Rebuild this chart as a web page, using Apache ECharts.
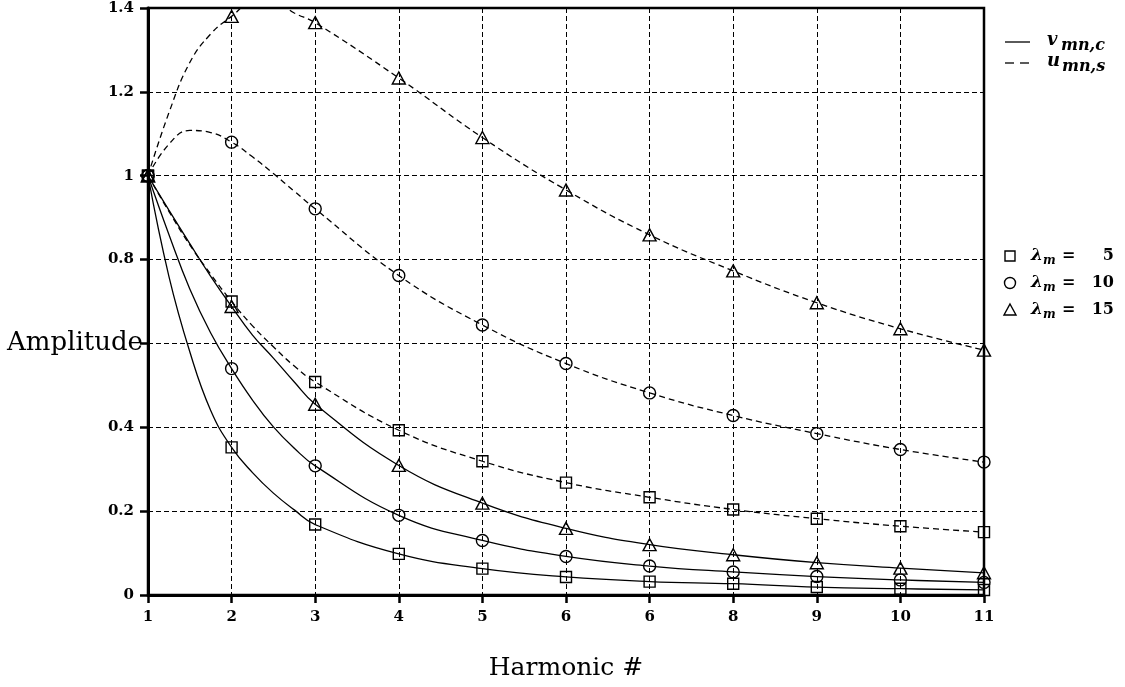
<!DOCTYPE html>
<html>
<head>
<meta charset="utf-8">
<script src="https://cdn.jsdelivr.net/npm/echarts@6/dist/echarts.min.js"></script>
<style>
html,body{margin:0;padding:0;background:#fff;}
#chart{width:1125px;height:687px;}
</style>
</head>
<body>
<div id="chart"></div>
<script>
// ---- data ----
const harmonics = [1, 2, 3, 4, 5, 6, 7, 8, 9, 10, 11];
const xTickLabels = ['1', '2', '3', '4', '5', '6', '6', '8', '9', '10', '11'];
const yTickLabels = ['0', '0.2', '0.4', 'Amplitude', '0.8', '1', '1.2', '1.4'];
const xAxisTitle = 'Harmonic #';
const yAxisTitle = 'Amplitude';

// v_mn,c (solid) at each harmonic
const vLam5  = [1, 0.352, 0.168, 0.098, 0.063, 0.043, 0.032, 0.027, 0.019, 0.015, 0.012];
const vLam10 = [1, 0.540, 0.308, 0.190, 0.130, 0.092, 0.069, 0.055, 0.044, 0.036, 0.030];
const vLam15 = [1, 0.688, 0.455, 0.309, 0.219, 0.159, 0.120, 0.096, 0.077, 0.064, 0.053];
// u_mn,s (dashed) at each harmonic
const uLam5  = [1, 0.700, 0.508, 0.393, 0.319, 0.268, 0.233, 0.204, 0.182, 0.164, 0.150];
const uLam10 = [1, 1.080, 0.921, 0.762, 0.644, 0.552, 0.482, 0.428, 0.385, 0.347, 0.317];
const uLam15 = [1, 1.380, 1.365, 1.233, 1.091, 0.966, 0.859, 0.773, 0.697, 0.635, 0.584];

const midX = [1.25, 1.5, 1.75, 2.25, 2.5, 2.75];
const vLam5Mid  = [0.760, 0.580, 0.440, 0.292, 0.243, 0.203];
const vLam10Mid = [0.860, 0.730, 0.625, 0.465, 0.401, 0.350];
const vLam15Mid = [0.918, 0.838, 0.760, 0.620, 0.565, 0.508];
const uLam5Mid  = [0.915, 0.835, 0.765, 0.642, 0.592, 0.546];
const uLam10Mid = [1.075, 1.108, 1.103, 1.045, 1.005, 0.963];
const uLam15Mid = [1.150, 1.270, 1.338, 1.414, 1.417, 1.388];

const lambdaLabels = ['5', '10', '15'];

// ---- build ----
const serifFam = '"DejaVu Serif", "Liberation Serif", serif';
const curves = [
  {name: 'v5',  vals: vLam5,  my: vLam5Mid,  dashed: false, sym: 'rect'},
  {name: 'v10', vals: vLam10, my: vLam10Mid, dashed: false, sym: 'circle'},
  {name: 'v15', vals: vLam15, my: vLam15Mid, dashed: false, sym: 'triangle'},
  {name: 'u5',  vals: uLam5,  my: uLam5Mid,  dashed: true,  sym: 'rect'},
  {name: 'u10', vals: uLam10, my: uLam10Mid, dashed: true,  sym: 'circle'},
  {name: 'u15', vals: uLam15, my: uLam15Mid, dashed: true,  sym: 'triangle'}
];
const symSize = {rect: 11, circle: 12, triangle: [13, 12]};

const series = [];
curves.forEach(c => {
  const pts = harmonics.map((h, i) => [h, c.vals[i]])
    .concat(midX.map((x, i) => [x, c.my[i]]))
    .sort((a, b) => a[0] - b[0]);
  series.push({
    type: 'line', name: c.name + 'line', data: pts, smooth: 0.45,
    showSymbol: false, symbol: 'none', z: 2, silent: true,
    lineStyle: {color: '#000', width: 1.3, type: c.dashed ? [6, 4] : 'solid'},
    clip: true
  });
  series.push({
    type: 'scatter', name: c.name + 'pts', data: harmonics.map((h, i) => [h, c.vals[i]]),
    symbol: c.sym, symbolSize: symSize[c.sym], z: 3, silent: true,
    itemStyle: {color: 'rgba(0,0,0,0)', borderColor: '#000', borderWidth: 1.4, opacity: 1},
    clip: false
  });
});

const tickFont = {fontFamily: serifFam, fontWeight: 'bold', fontSize: 15, color: '#000'};

// legend graphics
const graphic = [];
graphic.push({type: 'line', shape: {x1: 1005, y1: 42, x2: 1030, y2: 42}, style: {stroke: '#000', lineWidth: 1.3}});
graphic.push({type: 'line', shape: {x1: 1005, y1: 63, x2: 1014, y2: 63}, style: {stroke: '#000', lineWidth: 1.3}});
graphic.push({type: 'line', shape: {x1: 1020, y1: 63, x2: 1029, y2: 63}, style: {stroke: '#000', lineWidth: 1.3}});
const mathFont = 'italic bold 18px ' + serifFam;
const subFont = 'italic bold 16px ' + serifFam;
const subFontSm = 'italic bold 12px ' + serifFam;
graphic.push({type: 'text', x: 1047, y: 40, style: {text: 'v', font: mathFont, fill: '#000', textAlign: 'left', textVerticalAlign: 'middle'}});
graphic.push({type: 'text', x: 1061, y: 46, style: {text: 'mn,c', font: subFont, fill: '#000', textAlign: 'left', textVerticalAlign: 'middle'}});
graphic.push({type: 'text', x: 1047, y: 61, style: {text: 'u', font: mathFont, fill: '#000', textAlign: 'left', textVerticalAlign: 'middle'}});
graphic.push({type: 'text', x: 1062, y: 67, style: {text: 'mn,s', font: subFont, fill: '#000', textAlign: 'left', textVerticalAlign: 'middle'}});

const legY = [256, 283, 310];
const legStroke = {fill: 'none', stroke: '#000', lineWidth: 1.4};
graphic.push({type: 'rect', shape: {x: 1005, y: legY[0] - 5, width: 10, height: 10}, style: legStroke});
graphic.push({type: 'circle', shape: {cx: 1010, cy: legY[1], r: 5.5}, style: legStroke});
graphic.push({type: 'polygon', shape: {points: [[1010, legY[2] - 6], [1016, legY[2] + 5], [1004, legY[2] + 5]]}, style: legStroke});
lambdaLabels.forEach((lab, i) => {
  graphic.push({type: 'text', x: 1031, y: legY[i], style: {text: 'λ', font: 'italic bold 17px ' + serifFam, fill: '#000', textAlign: 'left', textVerticalAlign: 'middle'}});
  graphic.push({type: 'text', x: 1043, y: legY[i] + 5, style: {text: 'm', font: subFontSm, fill: '#000', textAlign: 'left', textVerticalAlign: 'middle'}});
  graphic.push({type: 'text', x: 1062, y: legY[i], style: {text: '=', font: 'bold 16px ' + serifFam, fill: '#000', textAlign: 'left', textVerticalAlign: 'middle'}});
  graphic.push({type: 'text', x: 1114, y: legY[i], style: {text: lab, font: 'bold 16px ' + serifFam, fill: '#000', textAlign: 'right', textVerticalAlign: 'middle'}});
});

const chart = echarts.init(document.getElementById('chart'), null, {renderer: 'canvas'});
chart.setOption({
  animation: false,
  backgroundColor: '#fff',
  grid: {left: 148, top: 8, width: 836, height: 587, show: true, borderColor: '#000', borderWidth: 2.5, backgroundColor: 'transparent'},
  xAxis: {
    type: 'value', min: 1, max: 11, interval: 1,
    name: xAxisTitle, nameLocation: 'middle', nameGap: 61,
    nameTextStyle: {fontFamily: serifFam, fontSize: 25, color: '#000'},
    axisLine: {show: true, lineStyle: {color: '#000', width: 3}},
    axisTick: {show: true, length: 8, lineStyle: {color: '#000', width: 2.5}},
    axisLabel: Object.assign({margin: 15, formatter: v => xTickLabels[Math.round(v) - 1]}, tickFont),
    splitLine: {show: true, lineStyle: {color: '#000', width: 1, type: [5, 3]}}
  },
  yAxis: {
    type: 'value', min: 0, max: 1.4, interval: 0.2,
    axisLine: {show: true, lineStyle: {color: '#000', width: 3}},
    axisTick: {show: true, length: 8, lineStyle: {color: '#000', width: 2.5}},
    axisLabel: {
      margin: 5,
      formatter: v => {
        const t = yTickLabels[Math.round(v / 0.2)];
        return t === yAxisTitle ? '{a|' + t + '}' : '{n|' + t + '}';
      },
      rich: {
        n: {fontFamily: serifFam, fontWeight: 'bold', fontSize: 15, color: '#000', padding: [0, 9, 0, 0]},
        a: {fontFamily: serifFam, fontSize: 26, color: '#000'}
      }
    },
    splitLine: {show: true, lineStyle: {color: '#000', width: 1, type: [5, 3]}}
  },
  graphic: graphic,
  series: series
});
</script>
</body>
</html>
